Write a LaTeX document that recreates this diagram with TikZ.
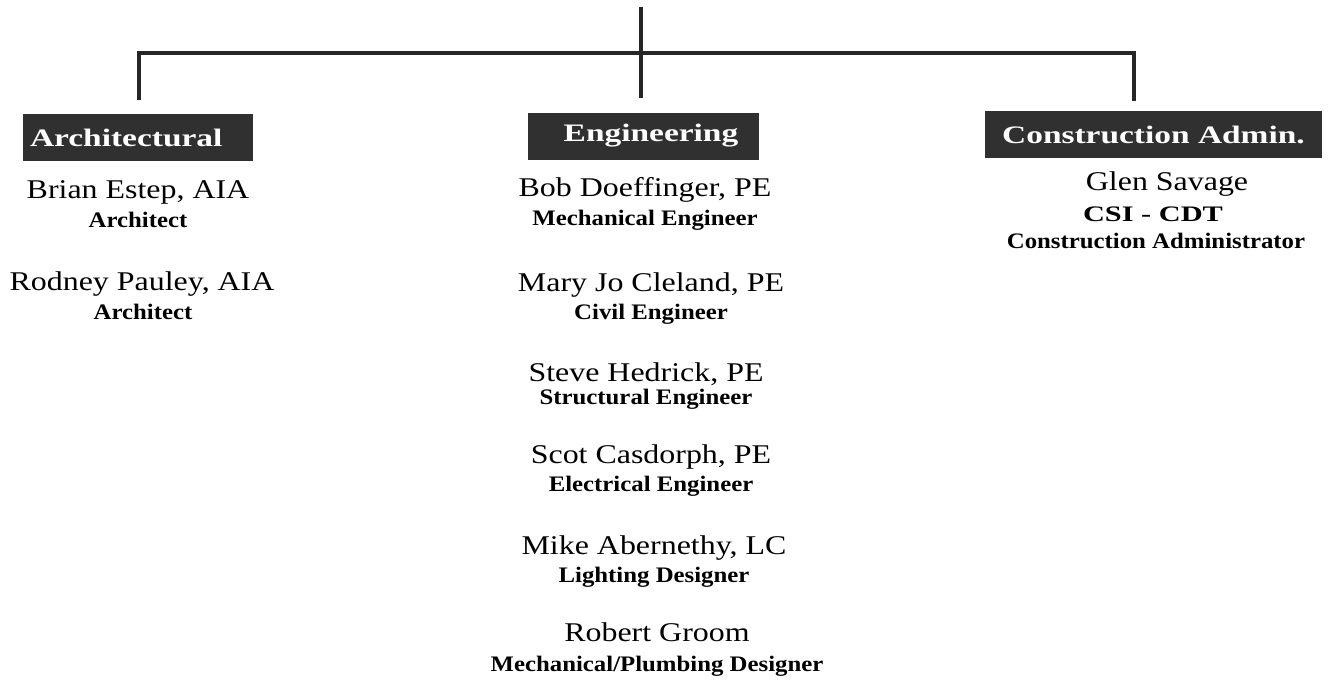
\documentclass[tikz,border=0pt]{standalone}
\usepackage{fontspec}
\setmainfont{Liberation Serif}
\newfontfamily\namefont[FakeStretch=1.18]{Liberation Serif}
\newfontfamily\rolefont[FakeStretch=1.12]{Liberation Serif Bold}
\newfontfamily\certfont[FakeStretch=1.37]{Liberation Serif Bold}
\newfontfamily\deptfont[FakeStretch=1.33]{Liberation Serif Bold}
\definecolor{deptgray}{HTML}{303030}
\definecolor{linegray}{HTML}{262626}
\tikzset{
    orgline/.style={line width=2pt, draw=linegray},
    dept/.style={fill=deptgray, text=white, inner xsep=0.14cm, inner ysep=0pt,
        minimum height=0.94cm, font=\deptfont\fontsize{14.3}{16}\selectfont},
    person/.style={anchor=base, inner sep=0pt, font=\namefont\fontsize{15.4}{17}\selectfont},
    jobtitle/.style={anchor=base, inner sep=0pt, font=\rolefont\fontsize{12.6}{14}\selectfont},
}
\begin{document}
\begin{tikzpicture}[x=0.02cm,y=-0.02cm]
    \useasboundingbox (0,0) rectangle (1331,681);
    % tree
    \coordinate (top) at (641,7);
    \coordinate (hub) at (641,53);
    \coordinate (archdrop) at (139,100);
    \coordinate (engdrop) at (641,98);
    \coordinate (cadrop) at (1134,101);
    \draw [orgline] (archdrop) |- (hub) -| (cadrop);
    \draw [orgline] (top) -- (engdrop);

    % departments
    \node [dept, text width=4.32cm, align=left] (arch) at (138,137.5) {Architectural};
    \node [dept, minimum width=4.62cm] (eng) at (643.5,136) {\hspace{0.3cm}Engineering};
    \node [dept, minimum width=6.74cm] (ca) at (1153.5,134.5) {Construction Admin.};

    % architectural
    \node [person] (arch1) at (138,198) {Brian Estep, AIA};
    \node [jobtitle] (archrole1) at (138,227) {Architect};
    \node [person] (arch2) at (142,290) {Rodney Pauley, AIA};
    \node [jobtitle] (archrole2) at (143,319) {Architect};

    % engineering
    \foreach \x/\yn/\yr/\who/\job [count=\i] in {
        645/196/225/{Bob Doeffinger, PE}/{Mechanical Engineer},
        651/291/319/{Mary Jo Cleland, PE}/{Civil Engineer},
        646/381/404/{Steve Hedrick, PE}/{Structural Engineer},
        651/463/491/{Scot Casdorph, PE}/{Electrical Engineer},
        654/554/582/{Mike Abernethy, LC}/{Lighting Designer},
        657/641/671/{Robert Groom}/{Mechanical/Plumbing Designer}} {
        \node [person] (eng\i) at (\x,\yn) {\who};
        \node [jobtitle] (engrole\i) at (\x,\yr) {\job};
    }

    % construction admin
    \node [person] (ca1) at (1167,190) {Glen Savage};
    \node [jobtitle, font=\certfont\fontsize{12.6}{14}\selectfont] (cacert1) at (1153,221) {CSI - CDT};
    \node [jobtitle] (carole1) at (1156,248) {Construction Administrator};
\end{tikzpicture}
\end{document}
